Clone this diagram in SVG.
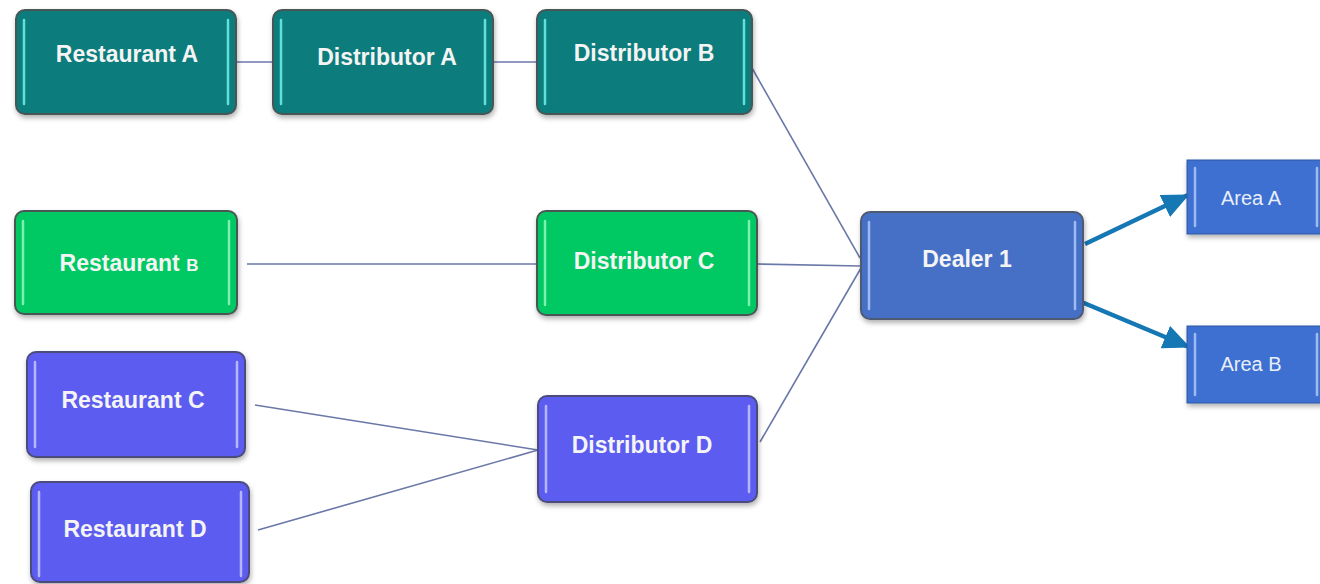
<svg xmlns="http://www.w3.org/2000/svg" width="1320" height="584" viewBox="0 0 1320 584">
<defs>
<filter id="sh" x="-10%" y="-10%" width="125%" height="130%">
<feDropShadow dx="1" dy="3" stdDeviation="2.5" flood-color="#000" flood-opacity="0.3"/>
</filter>
<marker id="arr" viewBox="0 0 10 9" refX="9.5" refY="4.5" markerWidth="6" markerHeight="5.4" orient="auto" markerUnits="strokeWidth">
<path d="M0,0 L10,4.5 L0,9 Z" fill="#1577b4"/>
</marker>
<style>
.box{stroke:#4a5656;stroke-width:2;filter:url(#sh)}
.teal{fill:#0b7b7b}
.green{fill:#06c863}
.purple{fill:#5b5bf0;stroke:#4c4c7c}
.blue{fill:#4570c6;stroke:#4d5a72}
.area{fill:#3c6fd0;stroke:#2f5aa8;stroke-width:1;filter:url(#sh)}
.hl{stroke-width:2.5;stroke-linecap:round;fill:none}
.hteal{stroke:#5fe0d8}
.hgreen{stroke:#7cf0b0}
.hpurple{stroke:#b6b6ff}
.hblue{stroke:#9dbaf2}
.lbl{font-family:"Liberation Sans",Arial,sans-serif;font-weight:bold;font-size:23px;fill:#f4f4f4;text-anchor:middle}
.albl{font-family:"Liberation Sans",Arial,sans-serif;font-size:20px;fill:#e8eefc;text-anchor:middle}
.ln{stroke:#6a78a8;stroke-width:1.6;fill:none}
.ar{stroke:#1577b4;stroke-width:4.5;fill:none;marker-end:url(#arr)}
</style>
</defs>
<rect width="1320" height="584" fill="#ffffff"/>
<g id="connectors">
<line class="ln" x1="236" y1="62" x2="273" y2="62"/>
<line class="ln" x1="493" y1="62" x2="537" y2="62"/>
<line class="ln" x1="752" y1="68" x2="860" y2="258"/>
<line class="ln" x1="247" y1="264" x2="537" y2="264"/>
<line class="ln" x1="757" y1="264" x2="861" y2="266"/>
<line class="ln" x1="760" y1="442" x2="861" y2="268"/>
<line class="ln" x1="255" y1="405" x2="538" y2="450"/>
<line class="ln" x1="258" y1="530" x2="538" y2="450"/>
<line class="ar" x1="1085" y1="244" x2="1188" y2="195"/>
<line class="ar" x1="1072" y1="298" x2="1189" y2="347"/>
</g>
<g id="restaurant-a">
<rect class="box teal" x="16" y="10" width="220" height="104" rx="9"/>
<line class="hl hteal" x1="24" y1="20" x2="24" y2="104"/>
<line class="hl hteal" x1="228" y1="20" x2="228" y2="104"/>
<text class="lbl" x="127" y="62">Restaurant A</text>
</g>
<g id="distributor-a">
<rect class="box teal" x="273" y="10" width="220" height="104" rx="9"/>
<line class="hl hteal" x1="281" y1="20" x2="281" y2="104"/>
<line class="hl hteal" x1="485" y1="20" x2="485" y2="104"/>
<text class="lbl" x="387" y="65">Distributor A</text>
</g>
<g id="distributor-b">
<rect class="box teal" x="537" y="10" width="215" height="104" rx="9"/>
<line class="hl hteal" x1="545" y1="20" x2="545" y2="104"/>
<line class="hl hteal" x1="744" y1="20" x2="744" y2="104"/>
<text class="lbl" x="644" y="61">Distributor B</text>
</g>
<g id="restaurant-b">
<rect class="box green" x="15" y="211" width="222" height="103" rx="9"/>
<line class="hl hgreen" x1="23" y1="221" x2="23" y2="304"/>
<line class="hl hgreen" x1="229" y1="221" x2="229" y2="304"/>
<text class="lbl" x="129" y="271">Restaurant <tspan font-size="17px">B</tspan></text>
</g>
<g id="distributor-c">
<rect class="box green" x="537" y="211" width="220" height="104" rx="9"/>
<line class="hl hgreen" x1="545" y1="221" x2="545" y2="305"/>
<line class="hl hgreen" x1="749" y1="221" x2="749" y2="305"/>
<text class="lbl" x="644" y="269">Distributor C</text>
</g>
<g id="dealer-1">
<rect class="box blue" x="861" y="212" width="222" height="107" rx="9"/>
<line class="hl hblue" x1="869" y1="222" x2="869" y2="309"/>
<line class="hl hblue" x1="1075" y1="222" x2="1075" y2="309"/>
<text class="lbl" x="967" y="267">Dealer 1</text>
</g>
<g id="area-a">
<rect class="area" x="1187" y="160" width="140" height="74"/>
<line class="hl hblue" x1="1195" y1="168" x2="1195" y2="226"/>
<line class="hl hblue" x1="1317" y1="168" x2="1317" y2="226"/>
<text class="albl" x="1251" y="205">Area A</text>
</g>
<g id="area-b">
<rect class="area" x="1187" y="326" width="140" height="77"/>
<line class="hl hblue" x1="1195" y1="334" x2="1195" y2="395"/>
<line class="hl hblue" x1="1317" y1="334" x2="1317" y2="395"/>
<text class="albl" x="1251" y="371">Area B</text>
</g>
<g id="restaurant-c">
<rect class="box purple" x="27" y="352" width="218" height="105" rx="9"/>
<line class="hl hpurple" x1="35" y1="362" x2="35" y2="447"/>
<line class="hl hpurple" x1="237" y1="362" x2="237" y2="447"/>
<text class="lbl" x="133" y="408">Restaurant C</text>
</g>
<g id="restaurant-d">
<rect class="box purple" x="31" y="482" width="218" height="100" rx="9"/>
<line class="hl hpurple" x1="39" y1="492" x2="39" y2="576"/>
<line class="hl hpurple" x1="241" y1="492" x2="241" y2="576"/>
<text class="lbl" x="135" y="537">Restaurant D</text>
</g>
<g id="distributor-d">
<rect class="box purple" x="538" y="396" width="219" height="106" rx="9"/>
<line class="hl hpurple" x1="546" y1="406" x2="546" y2="492"/>
<line class="hl hpurple" x1="749" y1="406" x2="749" y2="492"/>
<text class="lbl" x="642" y="453">Distributor D</text>
</g>
</svg>
